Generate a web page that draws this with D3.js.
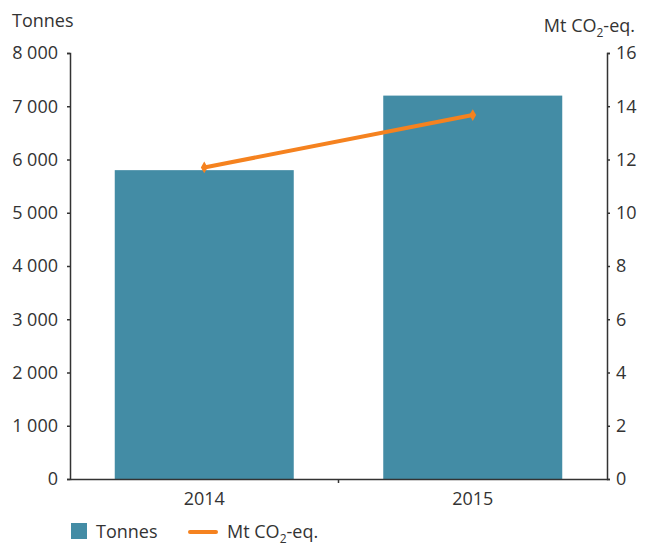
<!DOCTYPE html>
<html>
<head>
<meta charset="utf-8">
<script src="https://cdn.jsdelivr.net/npm/d3@7"></script>
<style>
  body { margin: 0; background: #fff; }
  text { font-family: "Open Sans", sans-serif; fill: #333; }
</style>
</head>
<body>
<script>
var years = ['2014', '2015'];
var tonnes = [5800, 7200];
var co2 = [11.7, 13.67];
var leftTicks = [0, 1000, 2000, 3000, 4000, 5000, 6000, 7000, 8000];
var rightTicks = [0, 2, 4, 6, 8, 10, 12, 14, 16];

var width = 650, height = 544;
var padding = { top: 53, right: 43, bottom: 65, left: 70 };
var barColor = '#438ca5', lineColor = '#f5821f', axisColor = '#333';
var fontSize = '18px';

var svg = d3.select('body').append('svg')
  .attr('width', width).attr('height', height);

var xScale = d3.scaleBand()
  .domain(years)
  .range([padding.left, width - padding.right]);
var yLeft = d3.scaleLinear()
  .domain([0, 8000])
  .range([height - padding.bottom, padding.top]);
var yRight = d3.scaleLinear()
  .domain([0, 16])
  .range([height - padding.bottom, padding.top]);

// bars
var barW = xScale.bandwidth() * 2 / 3;
svg.append('g').selectAll('rect')
  .data(tonnes)
  .enter()
  .append('rect')
  .attr('x', function(d, i) { return xScale(years[i]) + (xScale.bandwidth() - barW) / 2; })
  .attr('y', function(d) { return yLeft(d); })
  .attr('width', barW)
  .attr('height', function(d) { return yLeft(0) - yLeft(d); })
  .attr('fill', barColor);

// axes
var leftAxis = svg.append('g')
  .attr('transform', 'translate(' + padding.left + ',0)')
  .call(d3.axisLeft(yLeft).tickValues(leftTicks).tickSize(3).tickPadding(9)
    .tickFormat(function(d) { return d3.format(',')(d).replace(/,/g, ' '); }));
var rightAxis = svg.append('g')
  .attr('transform', 'translate(' + (width - padding.right) + ',0)')
  .call(d3.axisRight(yRight).tickValues(rightTicks).tickSize(3).tickPadding(6));
var bottomAxis = svg.append('g')
  .attr('transform', 'translate(0,' + (height - padding.bottom) + ')')
  .call(d3.axisBottom(xScale).tickSize(0).tickPadding(13));

[leftAxis, rightAxis, bottomAxis].forEach(function(a) {
  a.selectAll('path.domain').attr('stroke', axisColor).attr('stroke-width', 1.5);
  a.selectAll('line').attr('stroke', axisColor).attr('stroke-width', 1.5);
  a.selectAll('text').style('font-size', fontSize).attr('fill', '#333');
});

// middle tick on bottom axis
bottomAxis.append('line')
  .attr('x1', xScale('2015')).attr('x2', xScale('2015'))
  .attr('y1', 0).attr('y2', 4)
  .attr('stroke', axisColor).attr('stroke-width', 1.5);

// line
var linePath = d3.line()
  .x(function(d, i) { return xScale(years[i]) + xScale.bandwidth() / 2; })
  .y(function(d) { return yRight(d); });

svg.append('path')
  .attr('d', linePath(co2))
  .attr('fill', 'none')
  .attr('stroke', lineColor)
  .attr('stroke-width', 4);

svg.append('g').selectAll('path')
  .data(co2)
  .enter()
  .append('path')
  .attr('d', d3.symbol().type(d3.symbolDiamond).size(40))
  .attr('transform', function(d, i) {
    return 'translate(' + (xScale(years[i]) + xScale.bandwidth() / 2) + ',' + yRight(d) + ')';
  })
  .attr('fill', lineColor);

// axis titles
svg.append('text').attr('x', 12).attr('y', 27).style('font-size', fontSize).text('Tonnes');
var rt = svg.append('text').attr('x', 635).attr('y', 32).attr('text-anchor', 'end').style('font-size', fontSize);
rt.append('tspan').text('Mt CO');
rt.append('tspan').text('2').style('font-size', '12px').attr('dy', 5);
rt.append('tspan').text('-eq.').attr('dy', -5);

// legend
var legend = svg.append('g');
legend.append('rect').attr('x', 71).attr('y', 523).attr('width', 16).attr('height', 16).attr('fill', barColor);
legend.append('text').attr('x', 96).attr('y', 538).style('font-size', fontSize).text('Tonnes');
legend.append('line').attr('x1', 190).attr('x2', 216).attr('y1', 532).attr('y2', 532)
  .attr('stroke', lineColor).attr('stroke-width', 4).attr('stroke-linecap', 'round');
var lt = legend.append('text').attr('x', 227).attr('y', 538).style('font-size', fontSize);
lt.append('tspan').text('Mt CO');
lt.append('tspan').text('2').style('font-size', '12px').attr('dy', 5);
lt.append('tspan').text('-eq.').attr('dy', -5);
</script>
</body>
</html>
